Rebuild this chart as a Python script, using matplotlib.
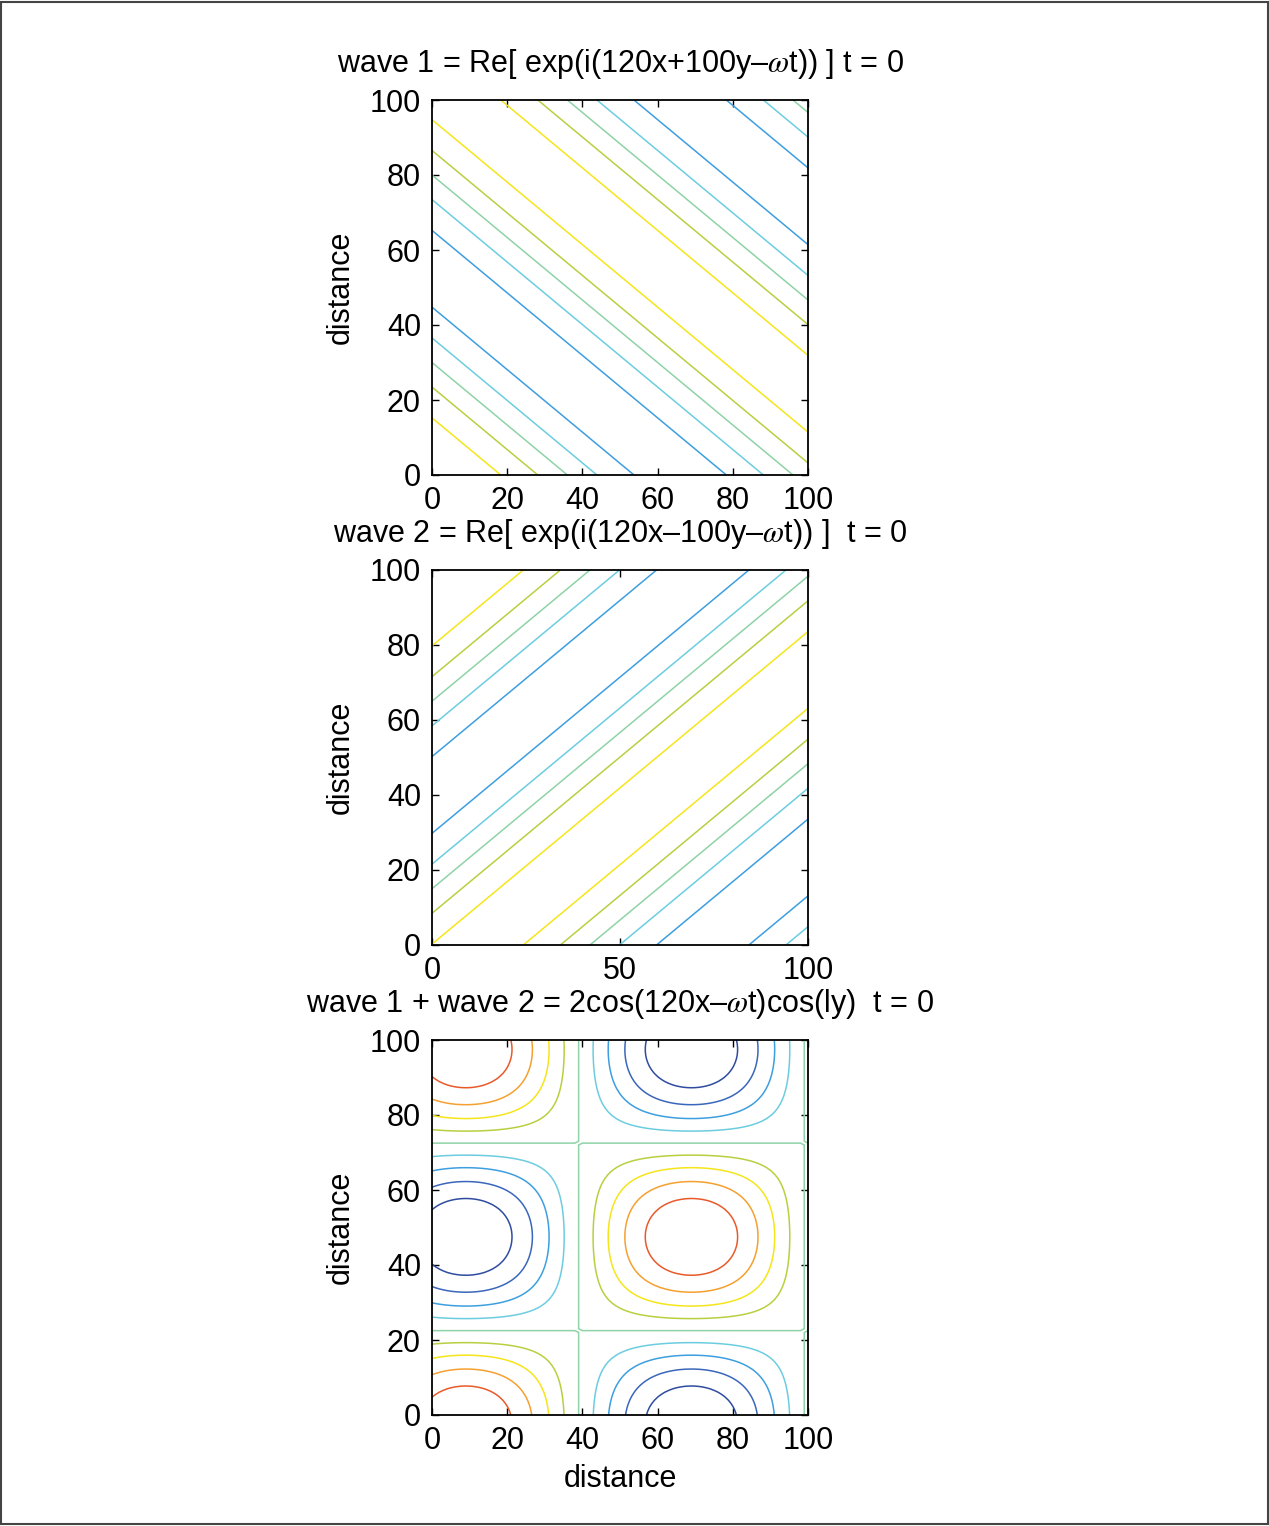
import numpy as np
import matplotlib.pyplot as plt
from matplotlib.patches import Rectangle

plt.rcParams['font.family'] = ['Liberation Sans', 'DejaVu Sans']
plt.rcParams['mathtext.fontset'] = 'stix'

# wave parameters (wavelengths in x and y, phase offsets)
lam_x = 120.0
lam_y = 100.0
phase1 = 0.1 * np.pi
phase2 = 0.2 * np.pi

# contour levels and their colours (shared by all panels)
levels = [-1.6, -1.2, -0.8, -0.4, 0.0, 0.4, 0.8, 1.2, 1.6]
level_colors = ['#2f4ca0', '#3a66bb', '#3d9ee0', '#6ccde0', '#8ed3a6',
                '#b8d040', '#f5e51b', '#f5a030', '#e85a2a']

titles = ["wave 1 = Re[ exp(i(120x+100y\u2013$\\omega$t)) ] t = 0",
          "wave 2 = Re[ exp(i(120x\u2013100y\u2013$\\omega$t)) ]  t = 0",
          "wave 1 + wave 2 = 2cos(120x\u2013$\\omega$t)cos(ly)  t = 0"]
xticks_list = [[0, 20, 40, 60, 80, 100], [0, 50, 100], [0, 20, 40, 60, 80, 100]]
yticks = [0, 20, 40, 60, 80, 100]

# grid like 0:1:100
x = np.arange(0, 101)
y = np.arange(0, 101)
X, Y = np.meshgrid(x, y)
wave1 = np.cos(2*np.pi*(X/lam_x + Y/lam_y) - phase1)
wave2 = np.cos(2*np.pi*(X/lam_x - Y/lam_y) - phase2)
fields = [wave1, wave2, wave1 + wave2]

W, H = 1269, 1526
fig = plt.figure(figsize=(W/100, H/100), dpi=100)
fig.patches.append(Rectangle((0.001, 0.001), 0.998, 0.998, transform=fig.transFigure,
                             fill=False, edgecolor='#444444', linewidth=1.5))

tops = [100, 570, 1040]
for i in range(3):
    ax = fig.add_axes([432/W, 1 - (tops[i] + 375)/H, 376/W, 375/H])
    Z = fields[i]
    used = [(lv, c) for lv, c in zip(levels, level_colors) if Z.min() < lv < Z.max()]
    ax.contour(X, Y, Z, levels=[u[0] for u in used], colors=[u[1] for u in used],
               linewidths=1.1, linestyles='solid')
    ax.set_xlim(0, 100)
    ax.set_ylim(0, 100)
    ax.set_xticks(xticks_list[i])
    ax.set_yticks(yticks)
    ax.tick_params(direction='in', top=True, right=True, length=5, width=1,
                   labelsize=22, pad=8)
    for s in ax.spines.values():
        s.set_linewidth(1.3)
    ax.set_title(titles[i], fontsize=22, pad=20)
    ax.set_ylabel("distance", fontsize=22, labelpad=10)
    if i == 2:
        ax.set_xlabel("distance", fontsize=22, labelpad=6)

fig.savefig("out.png", dpi=100)
